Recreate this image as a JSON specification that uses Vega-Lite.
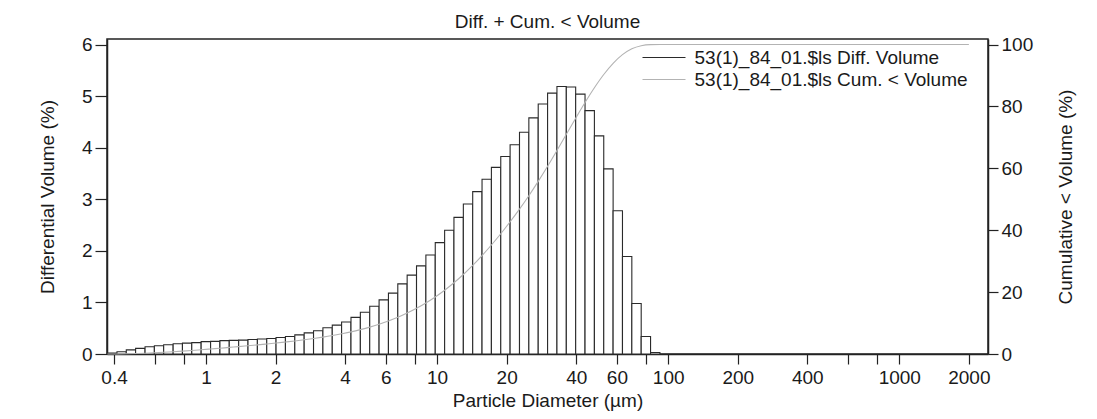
{
  "$schema": "https://vega.github.io/schema/vega-lite/v6.json",
  "width": 881,
  "height": 315,
  "autosize": {"type": "none"},
  "padding": {"left": 107, "top": 39, "right": 109, "bottom": 65},
  "background": "white",
  "title": {"text": "Diff. + Cum. < Volume", "fontSize": 19, "font": "Liberation Sans", "fontWeight": "normal", "color": "#1a1a1a", "offset": 4, "anchor": "middle"},
  "config": {
    "font": "Liberation Sans",
    "view": {"stroke": "#222", "strokeWidth": 1.5},
    "axis": {"grid": false, "labelFont": "Liberation Sans", "titleFont": "Liberation Sans", "labelFontSize": 19, "titleFontSize": 19, "titleFontWeight": "normal", "labelColor": "#1a1a1a", "titleColor": "#1a1a1a", "tickColor": "#222", "domainColor": "#222", "tickWidth": 1.2, "domainWidth": 1.5, "labelFlush": false, "labelOverlap": false}
  },
  "datasets": {
    "bars": [
      {"lo": 0.375, "hi": 0.412, "v": 0.02},
      {"lo": 0.412, "hi": 0.452, "v": 0.045},
      {"lo": 0.452, "hi": 0.496, "v": 0.08},
      {"lo": 0.496, "hi": 0.545, "v": 0.11},
      {"lo": 0.545, "hi": 0.598, "v": 0.14},
      {"lo": 0.598, "hi": 0.656, "v": 0.16},
      {"lo": 0.656, "hi": 0.721, "v": 0.18},
      {"lo": 0.721, "hi": 0.791, "v": 0.2},
      {"lo": 0.791, "hi": 0.868, "v": 0.21},
      {"lo": 0.868, "hi": 0.953, "v": 0.22},
      {"lo": 0.953, "hi": 1.047, "v": 0.24},
      {"lo": 1.047, "hi": 1.149, "v": 0.245},
      {"lo": 1.149, "hi": 1.261, "v": 0.26},
      {"lo": 1.261, "hi": 1.385, "v": 0.265},
      {"lo": 1.385, "hi": 1.52, "v": 0.27},
      {"lo": 1.52, "hi": 1.669, "v": 0.28},
      {"lo": 1.669, "hi": 1.832, "v": 0.29},
      {"lo": 1.832, "hi": 2.01, "v": 0.3},
      {"lo": 2.01, "hi": 2.207, "v": 0.32},
      {"lo": 2.207, "hi": 2.423, "v": 0.34},
      {"lo": 2.423, "hi": 2.66, "v": 0.37},
      {"lo": 2.66, "hi": 2.92, "v": 0.41},
      {"lo": 2.92, "hi": 3.206, "v": 0.45},
      {"lo": 3.206, "hi": 3.519, "v": 0.51},
      {"lo": 3.519, "hi": 3.862, "v": 0.56},
      {"lo": 3.862, "hi": 4.241, "v": 0.62},
      {"lo": 4.241, "hi": 4.656, "v": 0.71},
      {"lo": 4.656, "hi": 5.111, "v": 0.81},
      {"lo": 5.111, "hi": 5.611, "v": 0.925},
      {"lo": 5.611, "hi": 6.159, "v": 1.05},
      {"lo": 6.159, "hi": 6.761, "v": 1.18},
      {"lo": 6.761, "hi": 7.421, "v": 1.36},
      {"lo": 7.421, "hi": 8.147, "v": 1.53},
      {"lo": 8.147, "hi": 8.944, "v": 1.71},
      {"lo": 8.944, "hi": 9.819, "v": 1.92},
      {"lo": 9.819, "hi": 10.78, "v": 2.16},
      {"lo": 10.78, "hi": 11.83, "v": 2.4},
      {"lo": 11.83, "hi": 12.99, "v": 2.65},
      {"lo": 12.99, "hi": 14.26, "v": 2.91},
      {"lo": 14.26, "hi": 15.65, "v": 3.15},
      {"lo": 15.65, "hi": 17.18, "v": 3.39},
      {"lo": 17.18, "hi": 18.86, "v": 3.62},
      {"lo": 18.86, "hi": 20.7, "v": 3.83},
      {"lo": 20.7, "hi": 22.73, "v": 4.06},
      {"lo": 22.73, "hi": 24.95, "v": 4.3},
      {"lo": 24.95, "hi": 27.39, "v": 4.58},
      {"lo": 27.39, "hi": 30.07, "v": 4.85},
      {"lo": 30.07, "hi": 33.01, "v": 5.06},
      {"lo": 33.01, "hi": 36.24, "v": 5.19},
      {"lo": 36.24, "hi": 39.78, "v": 5.18},
      {"lo": 39.78, "hi": 43.67, "v": 5.04},
      {"lo": 43.67, "hi": 47.94, "v": 4.72},
      {"lo": 47.94, "hi": 52.62, "v": 4.23},
      {"lo": 52.62, "hi": 57.77, "v": 3.59},
      {"lo": 57.77, "hi": 63.41, "v": 2.78},
      {"lo": 63.41, "hi": 69.61, "v": 1.89},
      {"lo": 69.61, "hi": 76.42, "v": 0.98},
      {"lo": 76.42, "hi": 83.89, "v": 0.34},
      {"lo": 83.89, "hi": 92.09, "v": 0.03}
    ],
    "cum": [
      {"d": 0.375, "c": 0},
      {"d": 0.412, "c": 0.02},
      {"d": 0.452, "c": 0.07},
      {"d": 0.496, "c": 0.15},
      {"d": 0.545, "c": 0.26},
      {"d": 0.598, "c": 0.4},
      {"d": 0.656, "c": 0.56},
      {"d": 0.721, "c": 0.74},
      {"d": 0.791, "c": 0.94},
      {"d": 0.868, "c": 1.15},
      {"d": 0.953, "c": 1.38},
      {"d": 1.047, "c": 1.62},
      {"d": 1.149, "c": 1.86},
      {"d": 1.261, "c": 2.13},
      {"d": 1.385, "c": 2.39},
      {"d": 1.52, "c": 2.67},
      {"d": 1.669, "c": 2.95},
      {"d": 1.832, "c": 3.24},
      {"d": 2.01, "c": 3.54},
      {"d": 2.207, "c": 3.87},
      {"d": 2.423, "c": 4.21},
      {"d": 2.66, "c": 4.58},
      {"d": 2.92, "c": 4.99},
      {"d": 3.206, "c": 5.45},
      {"d": 3.519, "c": 5.96},
      {"d": 3.862, "c": 6.53},
      {"d": 4.241, "c": 7.15},
      {"d": 4.656, "c": 7.87},
      {"d": 5.111, "c": 8.68},
      {"d": 5.611, "c": 9.62},
      {"d": 6.159, "c": 10.67},
      {"d": 6.761, "c": 11.86},
      {"d": 7.421, "c": 13.23},
      {"d": 8.147, "c": 14.78},
      {"d": 8.944, "c": 16.5},
      {"d": 9.819, "c": 18.43},
      {"d": 10.78, "c": 20.61},
      {"d": 11.83, "c": 23.03},
      {"d": 12.99, "c": 25.7},
      {"d": 14.26, "c": 28.63},
      {"d": 15.65, "c": 31.81},
      {"d": 17.18, "c": 35.23},
      {"d": 18.86, "c": 38.87},
      {"d": 20.7, "c": 42.73},
      {"d": 22.73, "c": 46.83},
      {"d": 24.95, "c": 51.16},
      {"d": 27.39, "c": 55.78},
      {"d": 30.07, "c": 60.66},
      {"d": 33.01, "c": 65.76},
      {"d": 36.24, "c": 71.0},
      {"d": 39.78, "c": 76.21},
      {"d": 43.67, "c": 81.29},
      {"d": 47.94, "c": 86.05},
      {"d": 52.62, "c": 90.32},
      {"d": 57.77, "c": 93.93},
      {"d": 63.41, "c": 96.73},
      {"d": 69.61, "c": 98.64},
      {"d": 76.42, "c": 99.63},
      {"d": 83.89, "c": 99.97},
      {"d": 92.09, "c": 100},
      {"d": 2000, "c": 100}
    ]
  },
  "layer": [
    {
      "data": {"name": "bars"},
      "mark": {"type": "rect", "fill": "white", "strokeWidth": 1.1},
      "encoding": {
        "x": {
          "field": "lo", "type": "quantitative",
          "scale": {"type": "log", "domain": [0.373, 2420], "nice": false, "zero": false},
          "axis": {
            "title": "Particle Diameter (µm)",
            "values": [0.4, 0.6, 0.8, 1, 2, 4, 6, 8, 10, 20, 40, 60, 80, 100, 200, 400, 600, 800, 1000, 2000],
            "labelExpr": "indexof([0.6, 0.8, 8, 80, 600, 800], datum.value) >= 0 ? '' : format(datum.value, '~g')",
            "tickSize": 10, "labelPadding": 4, "titlePadding": 4
          }
        },
        "x2": {"field": "hi"},
        "y": {
          "field": "v", "type": "quantitative",
          "scale": {"domain": [0, 6.11], "nice": false, "zero": true},
          "axis": {"title": "Differential Volume (%)", "values": [0, 1, 2, 3, 4, 5, 6], "tickSize": 12, "labelPadding": 3, "titlePadding": 24}
        },
        "y2": {"datum": 0},
        "stroke": {
          "datum": "53(1)_84_01.$ls Diff. Volume", "type": "nominal",
          "scale": {"domain": ["53(1)_84_01.$ls Diff. Volume", "53(1)_84_01.$ls Cum. < Volume"], "range": ["#2a2a2a", "#b3b3b3"]},
          "legend": {
            "title": null, "orient": "none", "legendX": 545.5, "legendY": 7, "padding": 0,
            "symbolType": "M-2,0H2", "symbolSize": 462, "symbolStrokeWidth": 1.2,
            "labelOffset": 19, "labelFontSize": 19, "labelFont": "Liberation Sans", "labelColor": "#1a1a1a",
            "labelLimit": 500, "rowPadding": 0
          }
        }
      }
    },
    {
      "data": {"name": "cum"},
      "mark": {"type": "line", "strokeWidth": 1.1, "interpolate": "monotone"},
      "encoding": {
        "x": {"field": "d", "type": "quantitative"},
        "y": {
          "field": "c", "type": "quantitative",
          "scale": {"domain": [0, 101.8], "nice": false},
          "axis": {"orient": "right", "title": "Cumulative < Volume (%)", "values": [0, 20, 40, 60, 80, 100], "tickSize": 10, "labelPadding": 3, "titlePadding": 24, "titleAngle": 270, "titleBaseline": "top"}
        },
        "stroke": {"datum": "53(1)_84_01.$ls Cum. < Volume", "type": "nominal"}
      }
    }
  ],
  "resolve": {"scale": {"y": "independent"}}
}
